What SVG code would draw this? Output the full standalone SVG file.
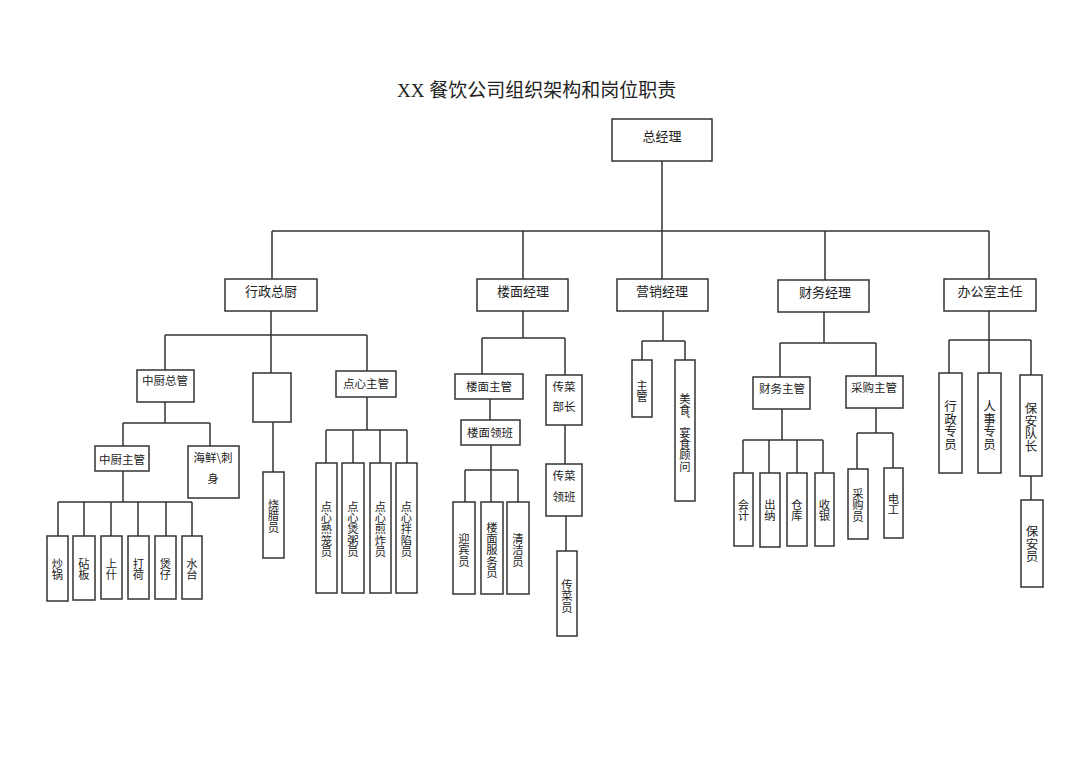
<svg xmlns="http://www.w3.org/2000/svg" width="1080" height="762" viewBox="0 0 1080 762">
<style>
.box{fill:#fff;stroke:#333;stroke-width:1.5}
.ln{stroke:#333;stroke-width:1.5;fill:none}
.t{font-family:"Noto Sans CJK SC","Noto Sans",sans-serif;fill:#222;text-anchor:middle;dominant-baseline:central}
.a{font-size:13px}
.b{font-size:11.5px}
.v{font-size:11.3px;writing-mode:vertical-rl}
.c{font-size:12.5px;writing-mode:vertical-rl}
</style>
<rect width="1080" height="762" fill="#fff"/>
<text x="397" y="97" font-size="19" fill="#222" font-family="'Noto Sans CJK SC',sans-serif"><tspan font-family="'Liberation Serif',serif">XX </tspan>餐饮公司组织架构和岗位职责</text>
<g id="connectors" class="ln">
<path d="M662 161V279M272 231H989M272 231V279M523 231V279M825 231V280M989 231V279"/>
<path d="M271 311V335M165 335H367M165 335V370M271 335V373M367 335V371M273 422V472"/>
<path d="M367 397V430M326 430H407M326 430V463M353 430V463M380 430V463M407 430V463"/>
<path d="M165 402V423M123 423H210M123 423V446M210 423V446"/>
<path d="M123 471V502M58 502H192M58 502V536M84 502V536M111 502V536M138 502V536M166 502V536M192 502V536"/>
<path d="M523 311V338M482 338H565M482 338V374M565 338V375M490 399V420M491 445V470M465 470H518M465 470V502M491 470V502M518 470V502M565 425V464M566 516V551"/>
<path d="M663 311V341M642 341H685M642 341V360M685 341V360"/>
<path d="M824 312V343M780 343H876M780 343V377M876 343V376M782 409V440M743 440H823M743 440V473M769 440V473M797 440V473M823 440V473M876 408V433M857 433H893M857 433V469M893 433V468"/>
<path d="M989 311V340M949 340H1031M949 340V373M989 340V373M1031 340V375M1031 476V500"/>
</g>
<g id="n-zjl"><rect class="box" x="612" y="119" width="100" height="42"/><text class="t a" x="662" y="135">总经理</text></g>
<g id="n-xzzc"><rect class="box" x="225" y="279" width="92" height="32"/><text class="t a" x="271" y="290">行政总厨</text></g>
<g id="n-lmjl"><rect class="box" x="477" y="279" width="91" height="32"/><text class="t a" x="523" y="290">楼面经理</text></g>
<g id="n-yxjl"><rect class="box" x="617" y="279" width="91" height="32"/><text class="t a" x="662" y="290">营销经理</text></g>
<g id="n-cwjl"><rect class="box" x="778" y="280" width="91" height="32"/><text class="t a" x="825" y="291">财务经理</text></g>
<g id="n-bgszr"><rect class="box" x="944" y="279" width="92" height="32"/><text class="t a" x="990" y="290">办公室主任</text></g>
<g id="n-zczg"><rect class="box" x="137" y="370" width="57" height="32"/><text class="t b" x="165" y="380">中厨总管</text></g>
<g id="n-empty"><rect class="box" x="253" y="373" width="38" height="49"/></g>
<g id="n-dxzg"><rect class="box" x="336" y="371" width="60" height="26"/><text class="t b" x="366" y="383">点心主管</text></g>
<g id="n-zczg2"><rect class="box" x="95" y="446" width="54" height="25"/><text class="t b" x="122" y="459">中厨主管</text></g>
<g id="n-hxcs"><rect class="box" x="188" y="446" width="51" height="52"/><text class="t b" x="213" y="457">海鲜\刺</text><text class="t b" x="213" y="478">身</text></g>
<g id="n-lmzg"><rect class="box" x="455" y="374" width="68" height="25"/><text class="t b" x="489" y="386">楼面主管</text></g>
<g id="n-lmlb"><rect class="box" x="461" y="420" width="59" height="25"/><text class="t b" x="490" y="432">楼面领班</text></g>
<g id="n-cczb"><rect class="box" x="546" y="375" width="36" height="50"/><text class="t b" x="564" y="386">传菜</text><text class="t b" x="564" y="406">部长</text></g>
<g id="n-cclb"><rect class="box" x="546" y="464" width="36" height="52"/><text class="t b" x="564" y="475">传菜</text><text class="t b" x="564" y="496">领班</text></g>
<g id="n-cwzg"><rect class="box" x="753" y="377" width="57" height="32"/><text class="t b" x="782" y="388">财务主管</text></g>
<g id="n-cgzg"><rect class="box" x="846" y="376" width="57" height="32"/><text class="t b" x="874" y="387">采购主管</text></g>
<g id="n-cg"><rect class="box" x="47" y="536" width="21" height="65"/><text class="t v" x="57.5" y="569">炒锅</text></g>
<g id="n-zb"><rect class="box" x="73" y="536" width="22" height="64"/><text class="t v" x="84" y="569">砧板</text></g>
<g id="n-ss"><rect class="box" x="101" y="536" width="21" height="63"/><text class="t v" x="111.5" y="569">上什</text></g>
<g id="n-dh"><rect class="box" x="128" y="536" width="21" height="63"/><text class="t v" x="138.5" y="569">打荷</text></g>
<g id="n-bz"><rect class="box" x="155" y="536" width="21" height="63"/><text class="t v" x="165.5" y="569">煲仔</text></g>
<g id="n-st"><rect class="box" x="182" y="536" width="20" height="63"/><text class="t v" x="192" y="569">水台</text></g>
<g id="n-sly"><rect class="box" x="263" y="472" width="21" height="86"/><text class="t v" x="273.5" y="516">烧腊员</text></g>
<g id="n-dx1"><rect class="box" x="316" y="463" width="21" height="130"/><text class="t v" x="326.5" y="529">点心熟笼员</text></g>
<g id="n-dx2"><rect class="box" x="342" y="463" width="22" height="130"/><text class="t v" x="353" y="529">点心煲粥员</text></g>
<g id="n-dx3"><rect class="box" x="370" y="463" width="21" height="130"/><text class="t v" x="380.5" y="529">点心煎炸员</text></g>
<g id="n-dx4"><rect class="box" x="396" y="463" width="21" height="130"/><text class="t v" x="406.5" y="529">点心拌陷员</text></g>
<g id="n-ybgy"><rect class="box" x="453" y="502" width="22" height="92"/><text class="t v" x="464" y="550">迎宾员</text></g>
<g id="n-lmfwy"><rect class="box" x="481" y="502" width="22" height="92"/><text class="t v" x="492" y="550">楼面服务员</text></g>
<g id="n-qjy"><rect class="box" x="507" y="502" width="22" height="92"/><text class="t v" x="518" y="550">清洁员</text></g>
<g id="n-ccy"><rect class="box" x="557" y="551" width="20" height="85"/><text class="t v" x="567" y="596">传菜员</text></g>
<g id="n-zg"><rect class="box" x="632" y="360" width="20" height="57"/><text class="t v" x="642" y="391">主管</text></g>
<g id="n-msgw"><rect class="box" x="675" y="360" width="20" height="141"/><text class="t v" x="685" y="432.5">美食、宴食顾问</text></g>
<g id="n-kj"><rect class="box" x="734" y="473" width="19" height="73"/><text class="t v" x="743.5" y="510">会计</text></g>
<g id="n-cn"><rect class="box" x="760" y="473" width="20" height="74"/><text class="t v" x="770" y="510">出纳</text></g>
<g id="n-ck"><rect class="box" x="787" y="473" width="20" height="73"/><text class="t v" x="797" y="510">仓库</text></g>
<g id="n-sy"><rect class="box" x="815" y="473" width="19" height="73"/><text class="t v" x="824.5" y="510">收银</text></g>
<g id="n-cgy"><rect class="box" x="848" y="469" width="20" height="70"/><text class="t v" x="858" y="505">采购员</text></g>
<g id="n-dg"><rect class="box" x="884" y="468" width="19" height="70"/><text class="t v" x="893.5" y="504">电工</text></g>
<g id="n-xzzy"><rect class="box" x="939" y="373" width="23" height="100"/><text class="t c" x="950.5" y="425">行政专员</text></g>
<g id="n-rszy"><rect class="box" x="978" y="373" width="23" height="100"/><text class="t c" x="989.5" y="425">人事专员</text></g>
<g id="n-badz"><rect class="box" x="1020" y="375" width="22" height="101"/><text class="t c" x="1031" y="427">保安队长</text></g>
<g id="n-bay"><rect class="box" x="1021" y="500" width="22" height="87"/><text class="t c" x="1032" y="544">保安员</text></g>
</svg>
